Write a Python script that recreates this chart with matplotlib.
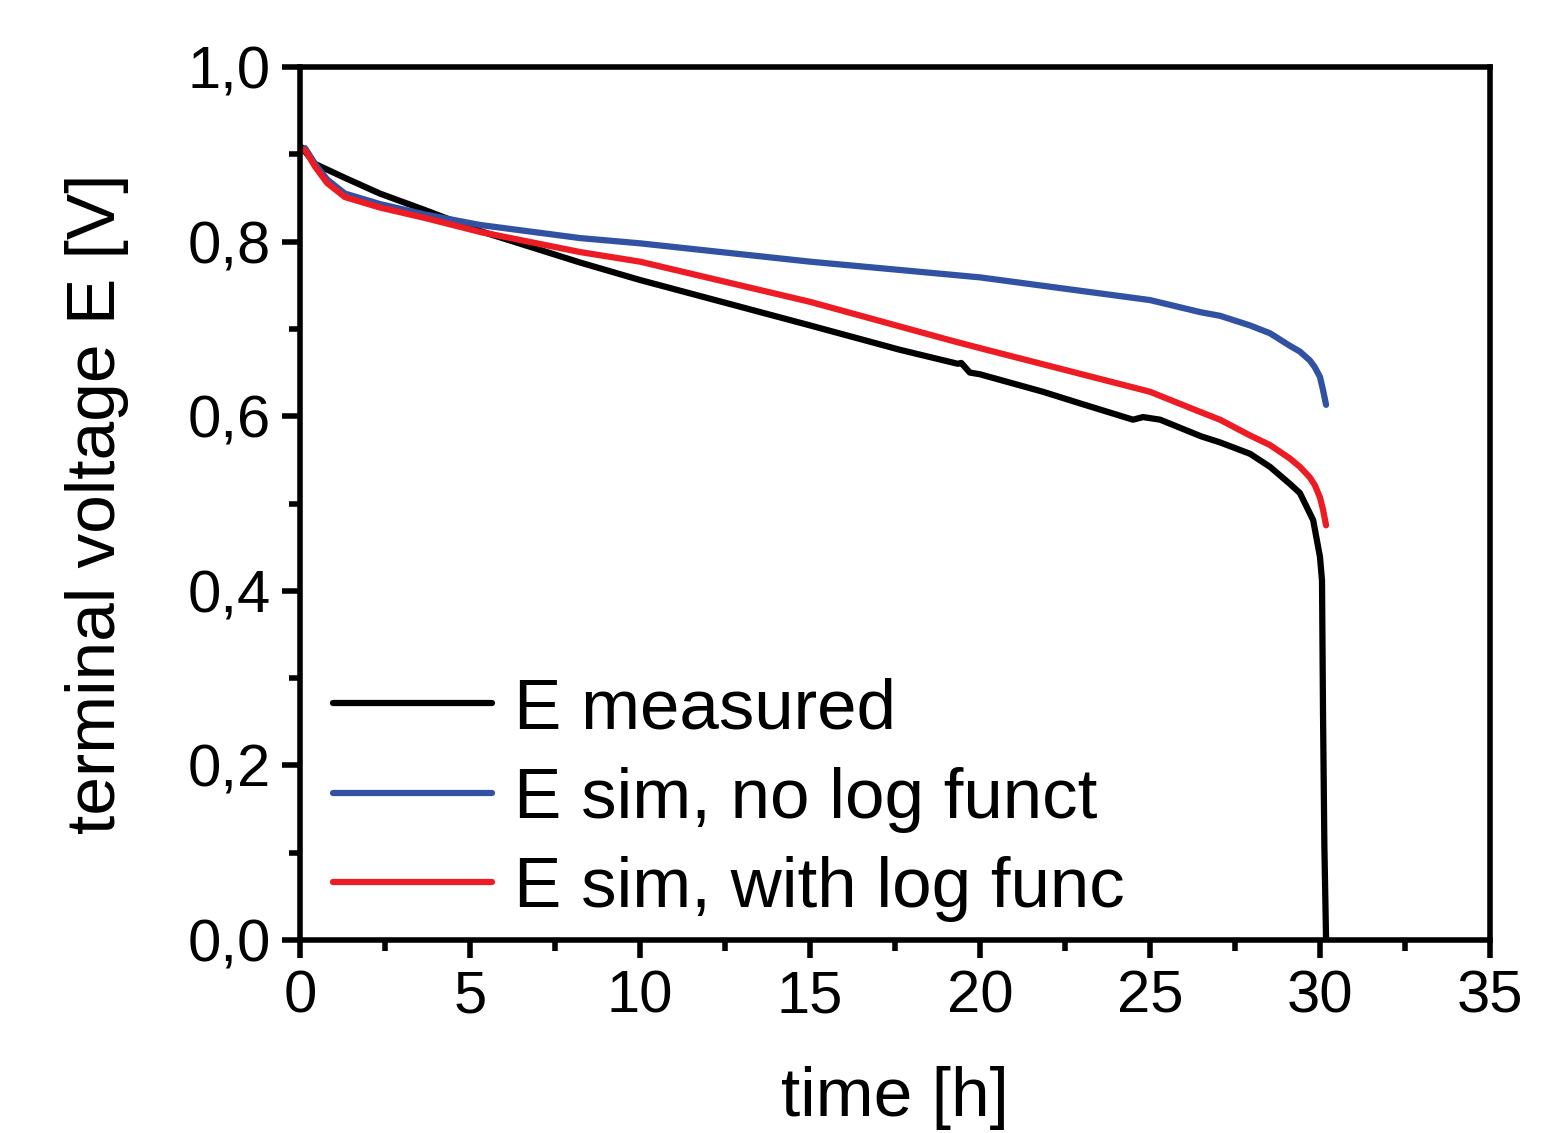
import matplotlib
matplotlib.use("Agg")
import matplotlib.pyplot as plt
from matplotlib.ticker import MultipleLocator

plt.rcParams['font.family'] = ['Liberation Sans', 'DejaVu Sans']

# measured terminal voltage
t_meas = [0.05, 0.44, 1.32, 2.35, 3.68, 5.3, 8.24, 10.0, 12.5, 15.0, 17.65,
          19.35, 19.45, 19.7, 20.0, 21.85, 23.0, 24.5, 24.8, 25.3, 26.5,
          27.06, 27.94, 28.53, 29.1, 29.41, 29.8, 30.0, 30.06, 30.09, 30.13,
          30.18]
e_meas = [0.908, 0.889, 0.873, 0.855, 0.836, 0.812, 0.776, 0.756, 0.730, 0.704,
          0.676, 0.660, 0.661, 0.650, 0.648, 0.628, 0.614, 0.596, 0.599, 0.596,
          0.577, 0.570, 0.557, 0.542, 0.523, 0.512, 0.481, 0.439, 0.412, 0.26,
          0.107, 0.0]

# simulation without log function
t_nolog = [0.15, 0.44, 0.8, 1.32, 2.35, 3.68, 5.3, 8.24, 10.0, 15.0, 20.0,
           25.0, 26.5, 27.06, 27.94, 28.53, 29.1, 29.41, 29.7, 29.85, 30.0,
           30.09, 30.18]
e_nolog = [0.907, 0.889, 0.871, 0.855, 0.843, 0.831, 0.819, 0.804, 0.798,
           0.777, 0.759, 0.733, 0.719, 0.715, 0.704, 0.695, 0.681, 0.674,
           0.664, 0.656, 0.645, 0.630, 0.613]

# simulation with log function
t_log = [0.15, 0.44, 0.8, 1.32, 2.35, 3.68, 5.3, 8.24, 10.0, 15.0, 19.12,
         20.0, 25.0, 26.47, 27.06, 27.94, 28.53, 29.1, 29.41, 29.7, 29.85,
         30.0, 30.09, 30.18]
e_log = [0.905, 0.886, 0.867, 0.851, 0.839, 0.827, 0.811, 0.788, 0.777,
         0.731, 0.687, 0.678, 0.628, 0.605, 0.596, 0.578, 0.567, 0.552,
         0.542, 0.530, 0.521, 0.507, 0.493, 0.475]

series_labels = ["E measured", "E sim, no log funct", "E sim, with log func"]
series_colors = ["black", "#3152a3", "#ed1c24"]

x_ticks = [0, 5, 10, 15, 20, 25, 30, 35]
y_ticks = [0.0, 0.2, 0.4, 0.6, 0.8, 1.0]
y_tick_labels = ["0,0", "0,2", "0,4", "0,6", "0,8", "1,0"]

fig = plt.figure(figsize=(15.48, 11.33), dpi=100)
ax = fig.add_axes([0.1938, 0.1703, 0.9625 - 0.1938, 0.9409 - 0.1703])

for t, e, lab, col in zip([t_meas, t_nolog, t_log], [e_meas, e_nolog, e_log],
                          series_labels, series_colors):
    ax.plot(t, e, color=col, lw=4.5, label=lab, solid_capstyle='round',
            solid_joinstyle='round')

ax.set_xlim(0, 35)
ax.set_ylim(0, 1.0)
ax.set_xticks(x_ticks)
ax.set_xticklabels([str(v) for v in x_ticks])
ax.set_yticks(y_ticks)
ax.set_yticklabels(y_tick_labels)
ax.xaxis.set_minor_locator(MultipleLocator(2.5))
ax.yaxis.set_minor_locator(MultipleLocator(0.1))

for s in ax.spines.values():
    s.set_linewidth(4.0)
ax.tick_params(which='major', direction='out', length=13, width=4.0,
               labelsize=43, pad=8, top=False, right=False)
ax.tick_params(which='minor', direction='out', length=8, width=4.0,
               top=False, right=False)

ax.set_xlabel("time [h]", fontsize=50, labelpad=30)
ax.set_ylabel("terminal voltage E [V]", fontsize=50, labelpad=42)

leg = ax.legend(loc='lower left', bbox_to_anchor=(-0.014, -0.036), frameon=False,
                fontsize=51, handlelength=2.25, handletextpad=0.3,
                labelspacing=0.33, borderpad=0.2)

fig.savefig("out.png", dpi=100)
